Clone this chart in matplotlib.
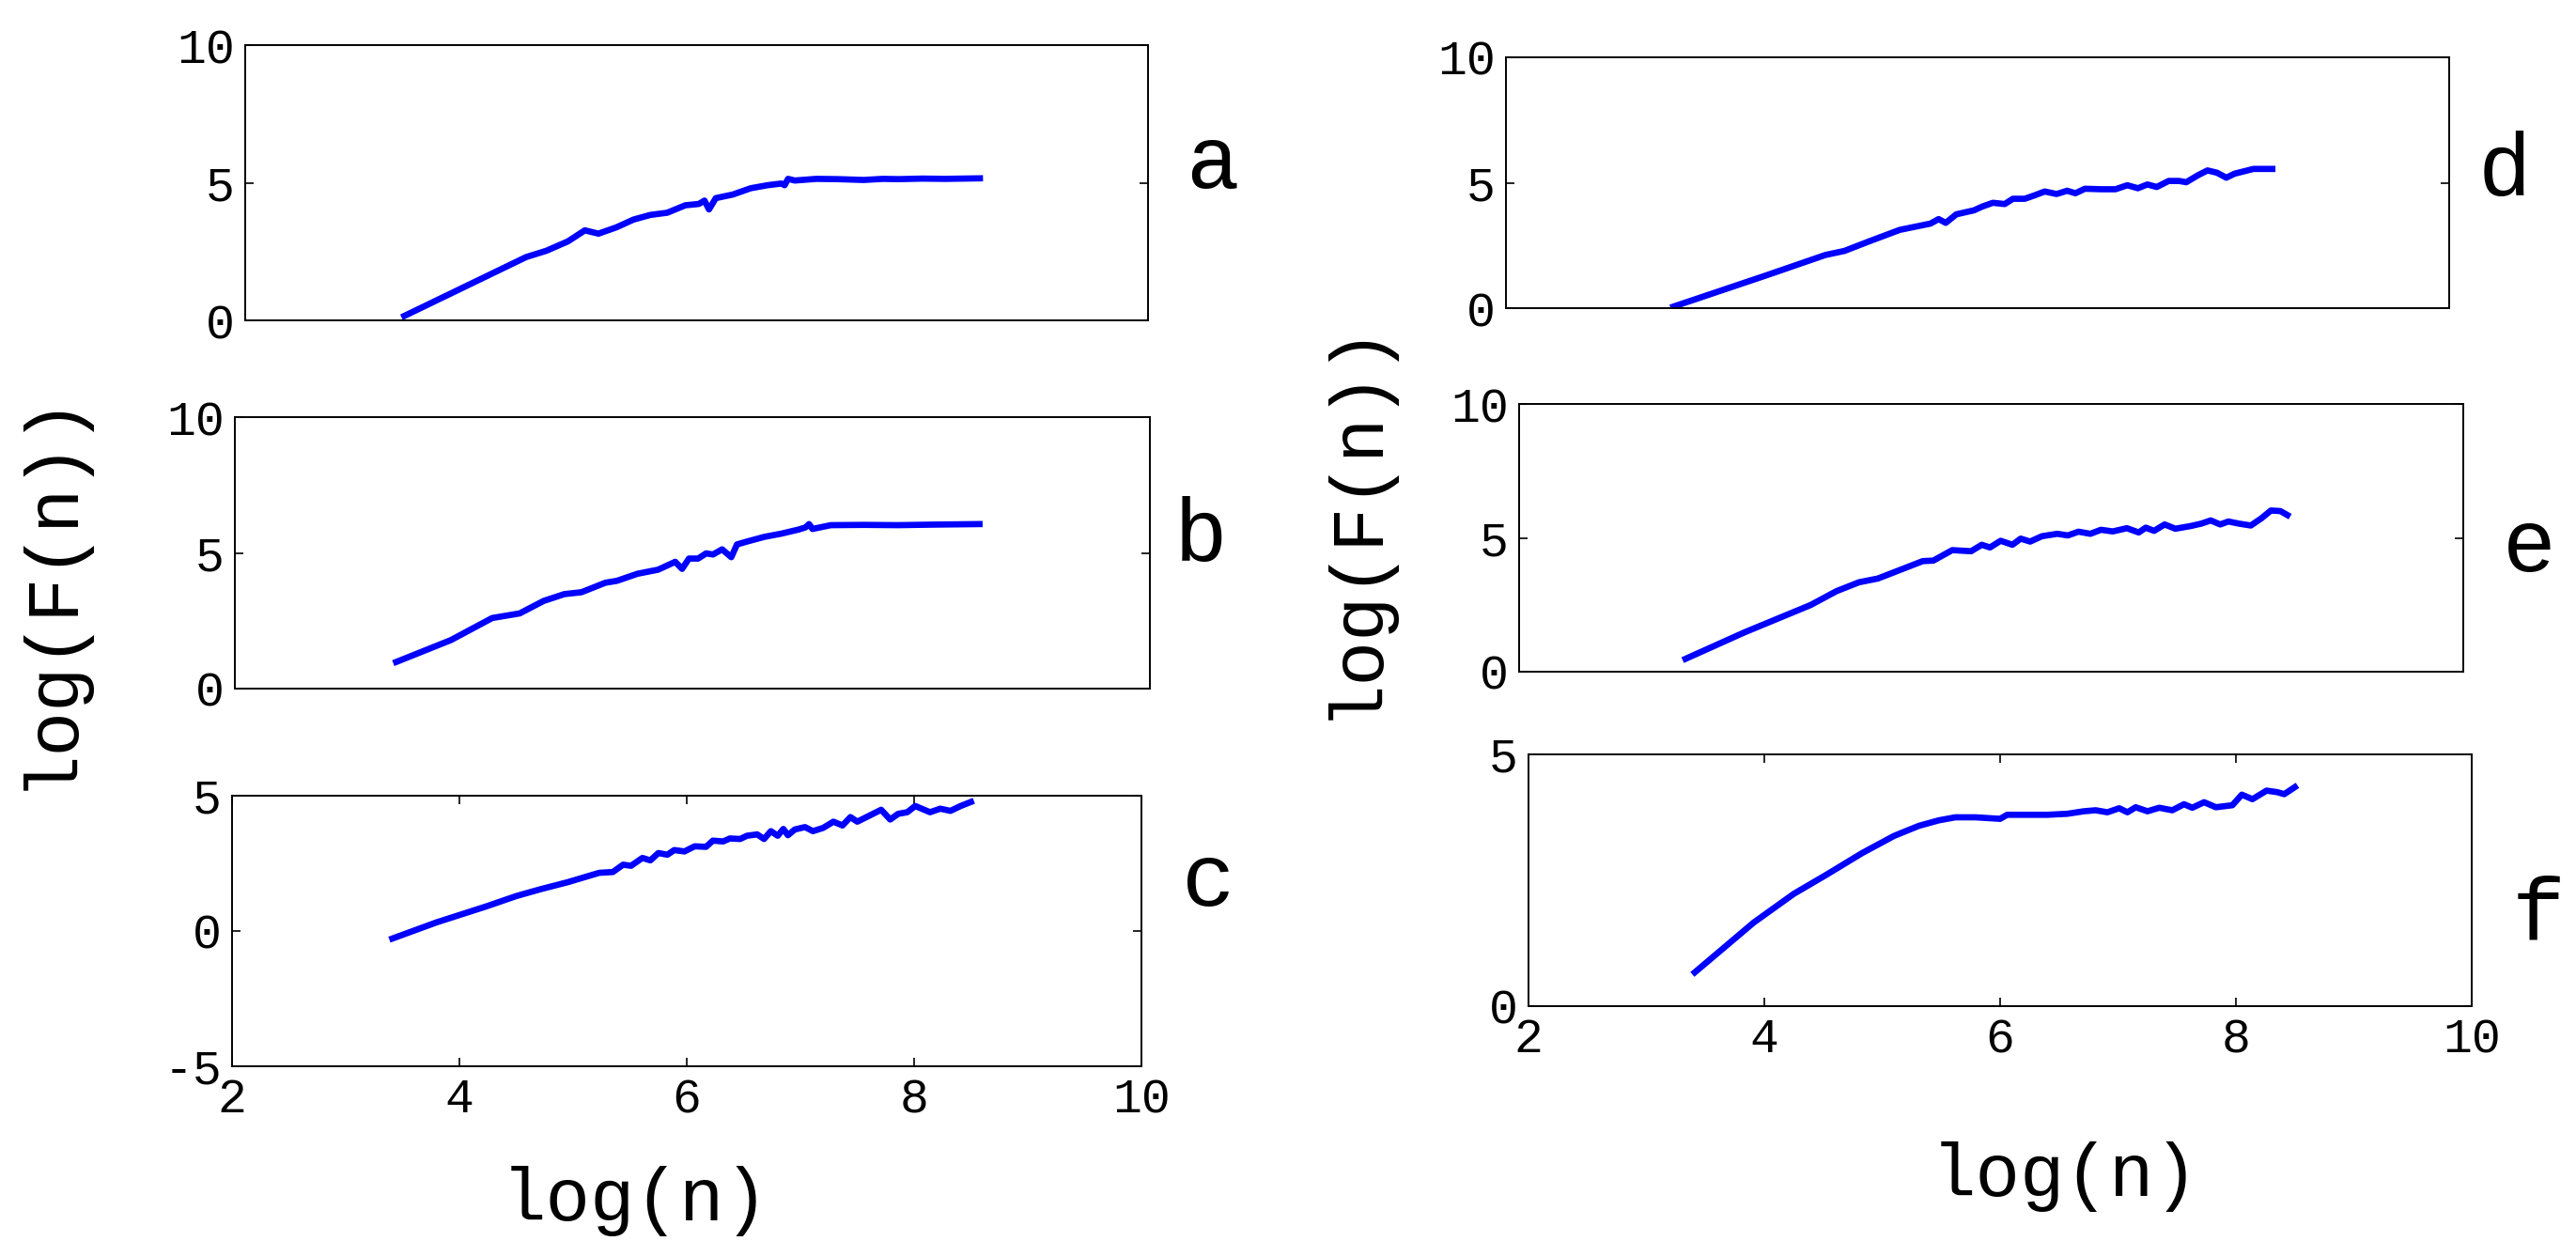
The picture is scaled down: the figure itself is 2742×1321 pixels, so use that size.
import numpy as np
import matplotlib
matplotlib.use("Agg")
import matplotlib.pyplot as plt

plt.rcParams['font.family'] = ['Liberation Mono', 'DejaVu Sans Mono']
plt.rcParams['axes.unicode_minus'] = False

# panel a
xa = [3.41, 4.49, 4.67, 4.86, 5.01, 5.13, 5.29, 5.44, 5.59, 5.74, 5.90, 6.02, 6.07, 6.11, 6.17,
      6.32, 6.48, 6.63, 6.75, 6.78, 6.81, 6.87, 7.06, 7.25, 7.48, 7.65, 7.79, 8.00, 8.20, 8.51]
ya = [0.16, 2.30, 2.53, 2.87, 3.27, 3.15, 3.38, 3.66, 3.83, 3.91, 4.18, 4.23, 4.35, 4.03, 4.44,
      4.57, 4.80, 4.91, 4.97, 4.91, 5.14, 5.08, 5.14, 5.13, 5.10, 5.14, 5.13, 5.15, 5.14, 5.16]

# panel b
xb = [3.41, 3.89, 4.25, 4.49, 4.70, 4.88, 5.03, 5.24, 5.34, 5.52, 5.70, 5.85, 5.91, 5.97, 6.05,
      6.12, 6.18, 6.26, 6.34, 6.39, 6.48, 6.63, 6.78, 6.93, 6.99, 7.02, 7.05, 7.21, 7.50, 7.80, 8.10, 8.51]
yb = [0.98, 1.79, 2.60, 2.77, 3.23, 3.48, 3.55, 3.90, 3.97, 4.23, 4.38, 4.67, 4.41, 4.79, 4.79,
      4.98, 4.94, 5.13, 4.84, 5.31, 5.42, 5.59, 5.71, 5.86, 5.94, 6.06, 5.88, 6.02, 6.03, 6.02, 6.04, 6.06]

# panel c
xc = [3.41, 3.80, 4.23, 4.50, 4.71, 4.95, 5.23, 5.35, 5.44, 5.51, 5.61, 5.68, 5.75, 5.83, 5.89,
      5.98, 6.07, 6.17, 6.23, 6.32, 6.38, 6.47, 6.53, 6.62, 6.68, 6.74, 6.80, 6.85, 6.89, 6.95,
      7.04, 7.11, 7.20, 7.29, 7.37, 7.44, 7.50, 7.61, 7.71, 7.79, 7.86, 7.94, 8.01, 8.14, 8.23,
      8.32, 8.41, 8.50]
yc = [-0.28, 0.32, 0.90, 1.29, 1.54, 1.80, 2.15, 2.18, 2.45, 2.41, 2.70, 2.61, 2.88, 2.82, 2.99,
      2.94, 3.13, 3.11, 3.34, 3.31, 3.42, 3.40, 3.52, 3.57, 3.40, 3.69, 3.52, 3.77, 3.54, 3.75,
      3.84, 3.69, 3.81, 4.04, 3.90, 4.21, 4.04, 4.27, 4.48, 4.12, 4.33, 4.39, 4.62, 4.39, 4.52,
      4.44, 4.62, 4.77]

# panel d
xd = [3.42, 4.21, 4.71, 4.87, 5.09, 5.34, 5.60, 5.67, 5.73, 5.82, 5.97, 6.04, 6.13, 6.23, 6.30,
      6.40, 6.48, 6.57, 6.67, 6.76, 6.83, 6.91, 7.05, 7.17, 7.27, 7.36, 7.44, 7.52, 7.62, 7.71,
      7.77, 7.87, 7.95, 8.03, 8.11, 8.18, 8.34, 8.50]
yd = [0.06, 1.31, 2.12, 2.28, 2.68, 3.12, 3.37, 3.55, 3.40, 3.74, 3.90, 4.05, 4.20, 4.15, 4.36,
      4.36, 4.49, 4.65, 4.55, 4.68, 4.58, 4.76, 4.74, 4.74, 4.90, 4.78, 4.93, 4.83, 5.07, 5.07,
      5.02, 5.30, 5.49, 5.40, 5.20, 5.36, 5.55, 5.55]

# panel e
xe = [3.41, 3.91, 4.47, 4.69, 4.88, 5.04, 5.42, 5.51, 5.67, 5.83, 5.92, 5.99, 6.08, 6.18, 6.25,
      6.33, 6.43, 6.56, 6.65, 6.74, 6.84, 6.93, 7.03, 7.15, 7.25, 7.31, 7.38, 7.47, 7.56, 7.69,
      7.78, 7.86, 7.94, 8.01, 8.10, 8.20, 8.29, 8.37, 8.45, 8.51]
ye = [0.48, 1.47, 2.49, 3.01, 3.34, 3.48, 4.13, 4.15, 4.54, 4.50, 4.74, 4.64, 4.89, 4.74, 4.97,
      4.86, 5.06, 5.15, 5.09, 5.23, 5.15, 5.30, 5.24, 5.36, 5.20, 5.38, 5.26, 5.50, 5.34, 5.44,
      5.53, 5.65, 5.50, 5.61, 5.53, 5.46, 5.73, 6.02, 6.00, 5.85]

# panel f
xf = [3.41, 3.91, 4.25, 4.52, 4.83, 5.10, 5.31, 5.48, 5.62, 5.79, 6.00, 6.06, 6.23, 6.40, 6.57,
      6.71, 6.81, 6.91, 7.01, 7.08, 7.15, 7.25, 7.35, 7.46, 7.56, 7.63, 7.73, 7.83, 7.97, 8.05,
      8.14, 8.26, 8.35, 8.41, 8.50]
yf = [0.67, 1.66, 2.23, 2.60, 3.04, 3.38, 3.58, 3.69, 3.75, 3.75, 3.72, 3.80, 3.80, 3.80, 3.82,
      3.87, 3.89, 3.85, 3.93, 3.85, 3.95, 3.87, 3.94, 3.89, 4.01, 3.94, 4.05, 3.95, 3.99, 4.20,
      4.11, 4.28, 4.25, 4.21, 4.35]

W, H = 2742, 1321
fig = plt.figure(figsize=(W / 100, H / 100), dpi=100)


def box(x0, y0, x1, y1):
    return [x0 / W, 1 - y1 / H, (x1 - x0) / W, (y1 - y0) / H]


panels = [
    (box(261, 48, 1222, 341), xa, ya, (0, 10), [0, 5, 10], False, 'a', (1262, 200)),
    (box(250, 444, 1224, 733), xb, yb, (0, 10), [0, 5, 10], False, 'b', (1250, 597)),
    (box(247, 847, 1215, 1135), xc, yc, (-5, 5), [-5, 0, 5], True, 'c', (1258, 964)),
    (box(1603, 61, 2607, 328), xd, yd, (0, 10), [0, 5, 10], False, 'd', (2638, 208)),
    (box(1617, 430, 2622, 715), xe, ye, (0, 10), [0, 5, 10], False, 'e', (2664, 608)),
    (box(1627, 803, 2631, 1071), xf, yf, (0, 5), [0, 5], True, 'f', (2674, 1000)),
]

for rect, x, y, ylim, yt, show_x, letter, lpos in panels:
    ax = fig.add_axes(rect)
    ax.plot(x, y, color='#0000ff', lw=4.8, solid_joinstyle='round')
    ax.set_xlim(2, 10)
    ax.set_ylim(*ylim)
    ax.set_yticks(yt)
    if show_x:
        ax.set_xticks([2, 4, 6, 8, 10])
    else:
        ax.set_xticks([])
    ax.tick_params(direction='in', length=6.5, width=1.2, top=True, right=True,
                   labelsize=37, pad=8)
    for s in ax.spines.values():
        s.set_linewidth(1.4)
    fig.text(lpos[0] / W, 1 - lpos[1] / H, letter, fontsize=68, ha='left', va='baseline')

fig.text(53 / W, 1 - 627 / H, 'log(F(n))', fontsize=57, rotation=90, ha='center', va='center')
fig.text(1442 / W, 1 - 552 / H, 'log(F(n))', fontsize=57, rotation=90, ha='center', va='center')
fig.text(676 / W, 1 - 1279 / H, 'log(n)', fontsize=57, ha='center', va='center')
fig.text(2198 / W, 1 - 1253 / H, 'log(n)', fontsize=57, ha='center', va='center')

fig.savefig('out.png', dpi=100)
